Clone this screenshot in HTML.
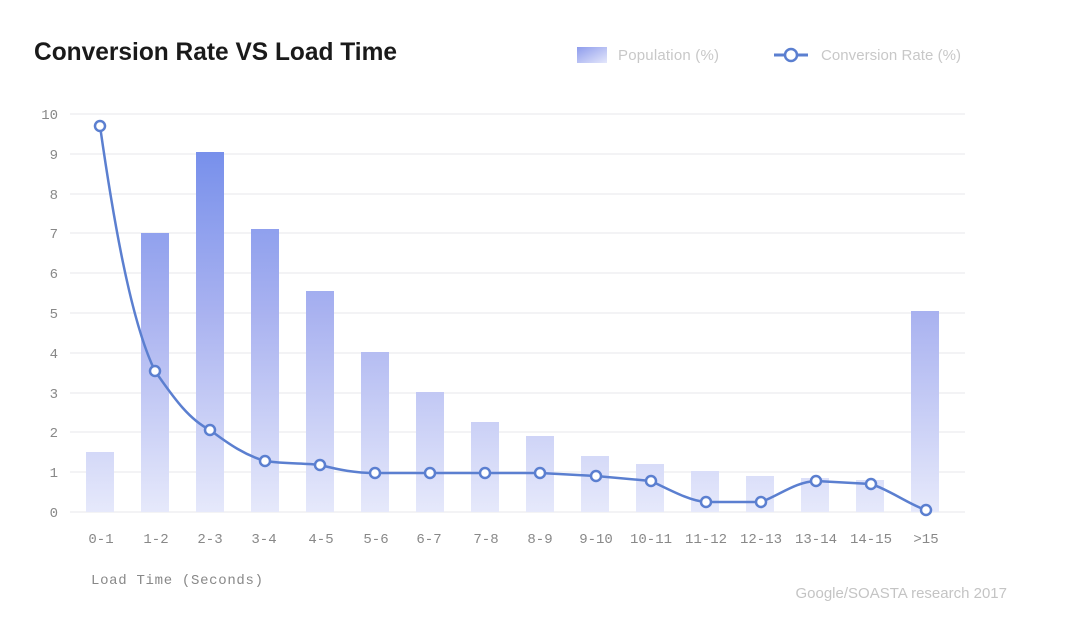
<!DOCTYPE html>
<html><head><meta charset="utf-8"><style>
html,body{margin:0;padding:0;background:#fff;width:1081px;height:635px;overflow:hidden}
</style></head><body>
<svg width="1081" height="635" viewBox="0 0 1081 635" xmlns="http://www.w3.org/2000/svg">
<defs>
<linearGradient id="g" gradientUnits="userSpaceOnUse" x1="0" y1="114" x2="0" y2="512">
<stop offset="0" stop-color="#6c88ea"/>
<stop offset="0.5" stop-color="#a9b2f0"/>
<stop offset="1" stop-color="#e6e9fb"/>
</linearGradient>
<linearGradient id="lg" x1="0" y1="0" x2="1" y2="1">
<stop offset="0" stop-color="#8e9cec"/><stop offset="1" stop-color="#e4e7fb"/>
</linearGradient>
</defs>
<text x="34" y="60" font-family="Liberation Sans, sans-serif" font-size="25" font-weight="bold" fill="#1a1a1a" textLength="363" lengthAdjust="spacingAndGlyphs">Conversion Rate VS Load Time</text>
<rect x="577" y="47" width="30" height="16" fill="url(#lg)"/>
<text x="618" y="60" font-family="Liberation Sans, sans-serif" font-size="15" fill="#c8c8c8" textLength="101">Population (%)</text>
<line x1="774" y1="55" x2="808" y2="55" stroke="#5b7fd0" stroke-width="3"/>
<circle cx="791" cy="55" r="6" fill="#fff" stroke="#5b7fd0" stroke-width="2.5"/>
<text x="821" y="60" font-family="Liberation Sans, sans-serif" font-size="15" fill="#c8c8c8" textLength="140">Conversion Rate (%)</text>
<g stroke="#efeff2" stroke-width="1.5">
<line x1="70" y1="114" x2="965" y2="114"/><line x1="70" y1="154" x2="965" y2="154"/><line x1="70" y1="194" x2="965" y2="194"/><line x1="70" y1="233" x2="965" y2="233"/><line x1="70" y1="273" x2="965" y2="273"/><line x1="70" y1="313" x2="965" y2="313"/><line x1="70" y1="353" x2="965" y2="353"/><line x1="70" y1="393" x2="965" y2="393"/><line x1="70" y1="432" x2="965" y2="432"/><line x1="70" y1="472" x2="965" y2="472"/><line x1="70" y1="512" x2="965" y2="512"/>
</g>
<g font-family="Liberation Mono, monospace" font-size="14" fill="#888" text-anchor="end">
<text x="58" y="119">10</text><text x="58" y="159">9</text><text x="58" y="199">8</text><text x="58" y="238">7</text><text x="58" y="278">6</text><text x="58" y="318">5</text><text x="58" y="358">4</text><text x="58" y="398">3</text><text x="58" y="437">2</text><text x="58" y="477">1</text><text x="58" y="517">0</text>
</g>
<g fill="url(#g)">
<rect x="86" y="452" width="28" height="60"/>
<rect x="141" y="233" width="28" height="279"/>
<rect x="196" y="152" width="28" height="360"/>
<rect x="251" y="229" width="28" height="283"/>
<rect x="306" y="291" width="28" height="221"/>
<rect x="361" y="352" width="28" height="160"/>
<rect x="416" y="392" width="28" height="120"/>
<rect x="471" y="422" width="28" height="90"/>
<rect x="526" y="436" width="28" height="76"/>
<rect x="581" y="456" width="28" height="56"/>
<rect x="636" y="464" width="28" height="48"/>
<rect x="691" y="471" width="28" height="41"/>
<rect x="746" y="476" width="28" height="36"/>
<rect x="801" y="478" width="28" height="34"/>
<rect x="856" y="480" width="28" height="32"/>
<rect x="911" y="311" width="28" height="201"/>
</g>
<path d="M100,126 C112,210 130,320 155,371 C175,400 190,420 210,430 C230,445 245,455 265,461 C285,464 305,463 320,465 C340,470 355,473 375,473 L540,473 L596,476 L651,481 C670,490 690,501 706,502 L761,502 C780,495 795,482 816,481 L871,484 C890,490 910,505 926,510" fill="none" stroke="#5b7fd0" stroke-width="2.5"/>
<g fill="#fff" stroke="#5b7fd0" stroke-width="2.5">
<circle cx="100" cy="126" r="5"/><circle cx="155" cy="371" r="5"/><circle cx="210" cy="430" r="5"/><circle cx="265" cy="461" r="5"/><circle cx="320" cy="465" r="5"/><circle cx="375" cy="473" r="5"/><circle cx="430" cy="473" r="5"/><circle cx="485" cy="473" r="5"/><circle cx="540" cy="473" r="5"/><circle cx="596" cy="476" r="5"/><circle cx="651" cy="481" r="5"/><circle cx="706" cy="502" r="5"/><circle cx="761" cy="502" r="5"/><circle cx="816" cy="481" r="5"/><circle cx="871" cy="484" r="5"/><circle cx="926" cy="510" r="5"/>
</g>
<g font-family="Liberation Mono, monospace" font-size="14" fill="#888" text-anchor="middle">
<text x="101" y="543">0-1</text><text x="156" y="543">1-2</text><text x="210" y="543">2-3</text><text x="264" y="543">3-4</text><text x="321" y="543">4-5</text><text x="376" y="543">5-6</text><text x="429" y="543">6-7</text><text x="486" y="543">7-8</text><text x="540" y="543">8-9</text><text x="596" y="543">9-10</text><text x="651" y="543">10-11</text><text x="706" y="543">11-12</text><text x="761" y="543">12-13</text><text x="816" y="543">13-14</text><text x="871" y="543">14-15</text><text x="926" y="543">&gt;15</text>
</g>
<text x="91" y="584" font-family="Liberation Mono, monospace" font-size="14" fill="#888" textLength="172">Load Time (Seconds)</text>
<text x="1007" y="598" text-anchor="end" font-family="Liberation Sans, sans-serif" font-size="15" fill="#c4c4c4">Google/SOASTA research 2017</text>
</svg>
</body></html>
